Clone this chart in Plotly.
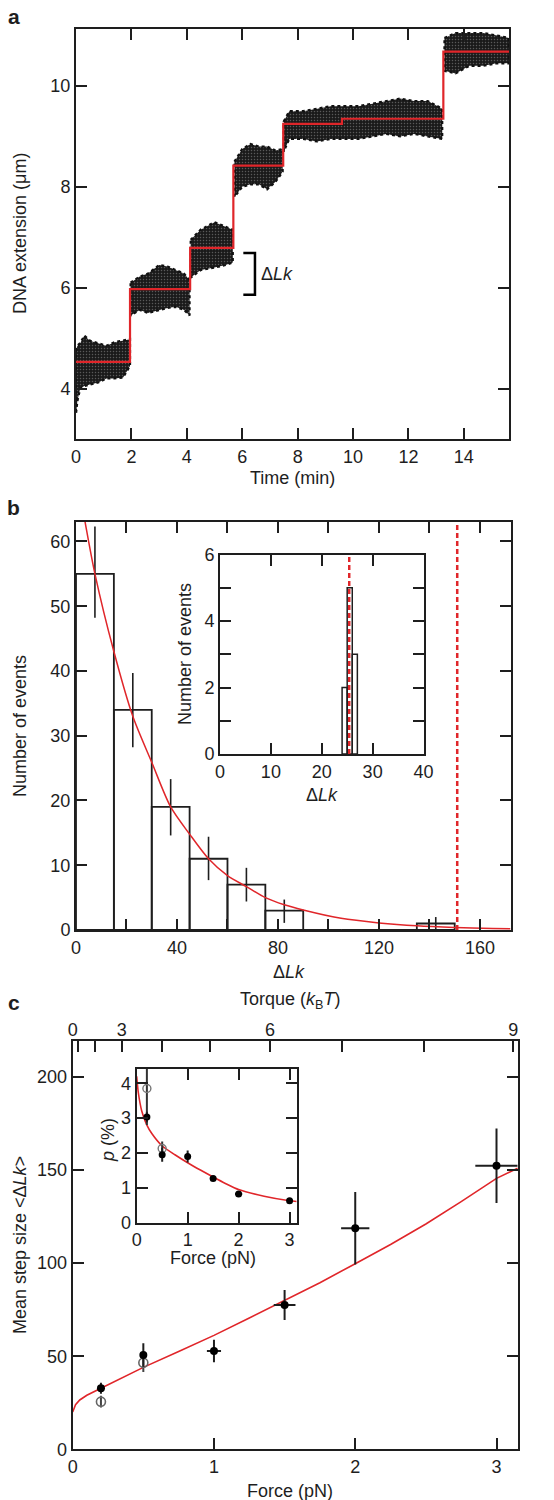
import plotly.graph_objects as go

W, H = 554, 1500
FONT = "Liberation Sans, Arial, Helvetica, sans-serif"
INK = "#1e1e1e"
RED = "#e0262a"

# ---------------- Panel a data ----------------
step_t = [0, 1.95, 4.12, 5.68, 7.48, 9.6, 13.26, 15.63]
step_lvl = [4.53, 5.97, 6.79, 8.42, 9.25, 9.35, 10.68, 10.68]

cloud_t = [
    [0, 0.05, 0.15, 0.3, 0.5, 0.8, 1.1, 1.4, 1.7, 1.95],
    [1.97, 2.3, 2.6, 3.0, 3.3, 3.6, 3.9, 4.1],
    [4.14, 4.5, 5.0, 5.4, 5.66],
    [5.72, 6.0, 6.3, 6.6, 6.9, 7.2, 7.46],
    [7.5, 7.7, 8.2, 8.7, 9.2, 9.7, 10.2, 10.7, 11.2, 11.7, 12.2, 12.7, 13.22],
    [13.3, 13.7, 14.2, 14.7, 15.2, 15.63],
]
cloud_hi = [
    [4.75, 4.85, 4.9, 5.05, 4.95, 4.9, 4.85, 4.92, 4.95, 4.98],
    [6.1, 6.22, 6.28, 6.45, 6.42, 6.35, 6.28, 6.15],
    [6.95, 7.15, 7.3, 7.2, 7.15],
    [8.5, 8.75, 8.85, 8.8, 8.8, 8.72, 8.75],
    [9.3, 9.5, 9.5, 9.55, 9.6, 9.6, 9.6, 9.65, 9.7, 9.75, 9.7, 9.7, 9.55],
    [10.95, 11.05, 11.05, 11.05, 11.0, 10.95],
]
cloud_lo = [
    [3.5, 3.75, 4.0, 4.05, 4.08, 4.12, 4.2, 4.2, 4.22, 4.45],
    [5.45, 5.56, 5.5, 5.56, 5.6, 5.62, 5.56, 5.45],
    [6.2, 6.35, 6.4, 6.45, 6.5],
    [7.8, 8.0, 8.05, 8.05, 7.95, 8.1, 8.3],
    [8.7, 8.95, 8.95, 8.9, 8.95, 8.95, 8.95, 9.0, 9.05, 9.0, 9.05, 9.0, 8.95],
    [10.3, 10.25, 10.4, 10.4, 10.45, 10.45],
]
a_xticks = [0, 2, 4, 6, 8, 10, 12, 14]
a_yticks = [4, 6, 8, 10]
bracket_t = [6.04, 6.46]
bracket_v = [5.86, 6.69]

# ---------------- Panel b data ----------------
hist_centers = [7.5, 22.5, 37.5, 52.5, 67.5, 82.5, 97.5, 112.5, 127.5, 142.5]
hist_counts = [55, 34, 19, 11, 7, 3, 0, 0, 0, 1]
hist_err_plus = [7.3, 5.7, 4.3, 3.4, 2.6, 1.7, 0, 0, 0, 1.0]
hist_err_minus = [6.8, 5.8, 4.4, 3.3, 2.6, 1.9, 0, 0, 0, 1.0]
hist_width = 15
fit_b_x = [0, 3.6, 7.5, 15, 22.5, 30, 37.5, 45, 52.5, 60, 67.5, 75, 82.5, 90, 105, 120, 135, 150, 165, 172]
fit_b_y = [71, 63, 55, 43, 33, 25.9, 19, 14.8, 11, 8.4, 6.7, 5.0, 3.9, 3.1, 1.8, 1.1, 0.65, 0.4, 0.25, 0.2]
b_dash_x = 151
b_xticks = [0, 40, 80, 120, 160]
b_xminor = [20, 60, 100, 140]
b_yticks = [0, 10, 20, 30, 40, 50, 60]

inset_b_centers = [24.5, 25.5, 26.5]
inset_b_counts = [2, 5, 3]
inset_b_dash_x = 25.4
ib_xticks = [0, 10, 20, 30, 40]
ib_yticks = [0, 2, 4, 6]
ib_yminor = [1, 3, 5]

# ---------------- Panel c data ----------------
force_f = [0.2, 0.5, 1.0, 1.5, 2.0, 3.0]
step_mean = [32.8, 50.6, 52.8, 77.5, 118.7, 152.3]
step_err_y = [3.0, 6.3, 6.0, 8.0, 19.5, 20.0]
step_err_x = [0.0, 0.02, 0.05, 0.077, 0.1, 0.15]
open_f = [0.2, 0.5]
open_mean = [25.6, 46.5]
open_err_y = [3.2, 5.0]
fit_c_x = [0, 0.02, 0.05, 0.1, 0.2, 0.3, 0.5, 0.75, 1.0, 1.25, 1.5, 1.75, 2.0, 2.25, 2.5, 2.75, 3.0, 3.15]
fit_c_y = [20, 24, 26.5, 29, 32.8, 36.5, 44, 52.5, 61.2, 70.5, 80, 89.5, 99.7, 110, 121, 133, 145.5, 151]
torque_labels = ["0", "3", "6", "9"]
torque_label_force = [0, 0.347, 1.397, 3.118]
torque_minor_force = [0.035, 0.158, 0.630, 0.972, 1.904, 2.488]
c_yticks = [0, 50, 100, 150, 200]
c_xticks = [0, 1, 2, 3]

p_f = [0.2, 0.5, 1.0, 1.5, 2.0, 3.0]
p_val = [3.03, 1.95, 1.9, 1.27, 0.82, 0.63]
p_err_y = [0.15, 0.2, 0.17, 0.07, 0.08, 0.03]
p_err_x = [0.0, 0.0, 0.0, 0.05, 0.07, 0.04]
p_open_f = [0.2, 0.5]
p_open_val = [3.85, 2.13]
p_open_err = [1.05, 0.2]
fit_p_x = [0, 0.03, 0.1, 0.2, 0.3, 0.5, 0.75, 1.0, 1.25, 1.5, 1.75, 2.0, 2.5, 3.0, 3.14]
fit_p_y = [4.2, 3.75, 3.2, 2.8, 2.55, 2.2, 1.95, 1.72, 1.51, 1.31, 1.12, 0.95, 0.76, 0.63, 0.61]
ic_xticks = [0, 1, 2, 3]
ic_yticks = [0, 1, 2, 3, 4]


def dom_x(l, r):
    return [l / W, r / W]


def dom_y(t, b):
    return [1 - b / H, 1 - t / H]


def ax(minor_vals=None, **kw):
    d = dict(showline=True, linewidth=2, linecolor=INK, mirror="ticks",
             ticks="inside", ticklen=11, tickwidth=2, tickcolor=INK,
             showgrid=False, zeroline=False, automargin=False,
             tickfont=dict(family=FONT, size=18, color=INK))
    if minor_vals is not None:
        d["minor"] = dict(tickmode="array", tickvals=minor_vals, ticks="inside",
                          ticklen=11, tickwidth=2, tickcolor=INK, showgrid=False)
    d.update(kw)
    return d


fig = go.Figure()

# ---- Panel a ----
for t, hi, lo in zip(cloud_t, cloud_hi, cloud_lo):
    fig.add_trace(go.Scatter(
        x=t + t[::-1] + [t[0]], y=hi + lo[::-1] + [hi[0]], xaxis="x", yaxis="y",
        mode="lines", line=dict(width=2.2, color="#111", dash="dot"),
        fill="toself", fillcolor="#1a1a1a",
        fillpattern=dict(shape=".", fgcolor="#5a5a5a", bgcolor="#1a1a1a", size=3,
                         solidity=0.2, fillmode="replace"),
        hoverinfo="skip"))
fig.add_trace(go.Scatter(x=step_t, y=step_lvl, xaxis="x", yaxis="y", mode="lines",
                         line=dict(color=RED, width=2.2, shape="hv")))

# ---- Panel b ----
fig.add_trace(go.Bar(x=hist_centers, y=hist_counts, width=hist_width, xaxis="x2", yaxis="y2",
                     marker=dict(color="rgba(0,0,0,0)", line=dict(color=INK, width=1.8)),
                     error_y=dict(type="data", array=hist_err_plus, arrayminus=hist_err_minus,
                                  color=INK, thickness=1.6, width=0)))
fig.add_trace(go.Scatter(x=fit_b_x, y=fit_b_y, xaxis="x2", yaxis="y2", mode="lines",
                         line=dict(color=RED, width=1.5, shape="spline", smoothing=0.8)))
fig.add_trace(go.Scatter(x=[b_dash_x, b_dash_x], y=[0, 63], xaxis="x2", yaxis="y2", mode="lines",
                         line=dict(color=RED, width=2.5, dash="5px,3px")))

fig.add_trace(go.Bar(x=inset_b_centers, y=inset_b_counts, width=1, xaxis="x3", yaxis="y3",
                     marker=dict(color="rgba(0,0,0,0)", line=dict(color=INK, width=1.5))))
fig.add_trace(go.Scatter(x=[inset_b_dash_x, inset_b_dash_x], y=[0, 6], xaxis="x3", yaxis="y3",
                         mode="lines", line=dict(color=RED, width=2.5, dash="5px,3px")))

# ---- Panel c ----
fig.add_trace(go.Scatter(x=fit_c_x, y=fit_c_y, xaxis="x4", yaxis="y4", mode="lines",
                         line=dict(color=RED, width=1.6)))
fig.add_trace(go.Scatter(x=open_f, y=open_mean, xaxis="x4", yaxis="y4", mode="markers",
                         marker=dict(symbol="circle-open", size=9, color="#666", line=dict(width=1.6)),
                         error_y=dict(type="data", array=open_err_y, color="#444", thickness=2, width=0)))
fig.add_trace(go.Scatter(x=force_f, y=step_mean, xaxis="x4", yaxis="y4", mode="markers",
                         marker=dict(symbol="circle", size=8, color="#000"),
                         error_y=dict(type="data", array=step_err_y, color=INK, thickness=2, width=0),
                         error_x=dict(type="data", array=step_err_x, color=INK, thickness=2, width=0)))
# invisible trace to activate the torque axis
fig.add_trace(go.Scatter(x=[0], y=[0], xaxis="x5", yaxis="y4", mode="markers",
                         marker=dict(opacity=0), hoverinfo="skip"))

fig.add_trace(go.Scatter(x=fit_p_x, y=fit_p_y, xaxis="x6", yaxis="y6", mode="lines",
                         line=dict(color=RED, width=1.6, shape="spline", smoothing=0.6)))
fig.add_trace(go.Scatter(x=p_open_f, y=p_open_val, xaxis="x6", yaxis="y6", mode="markers",
                         marker=dict(symbol="circle-open", size=8, color="#777", line=dict(width=1.4)),
                         error_y=dict(type="data", array=p_open_err, color="#333", thickness=2, width=0)))
fig.add_trace(go.Scatter(x=p_f, y=p_val, xaxis="x6", yaxis="y6", mode="markers",
                         marker=dict(symbol="circle", size=7, color="#000"),
                         error_y=dict(type="data", array=p_err_y, color=INK, thickness=2, width=0),
                         error_x=dict(type="data", array=p_err_x, color=INK, thickness=2, width=0)))

# ---- Layout ----
fig.update_layout(
    template="none",
    width=W, height=H, margin=dict(l=0, r=0, t=0, b=0, pad=0, autoexpand=False),
    paper_bgcolor="white", plot_bgcolor="white", showlegend=False,
    barmode="overlay", hovermode=False,
    xaxis=ax(domain=dom_x(76, 509), anchor="y", range=[0, 15.63], tickvals=a_xticks),
    yaxis=ax(domain=dom_y(29, 439), anchor="x", range=[3.0, 11.13], tickvals=a_yticks),
    xaxis2=ax(b_xminor, domain=dom_x(76, 511), anchor="y2", range=[0, 172.3], tickvals=b_xticks),
    yaxis2=ax(domain=dom_y(522, 930), anchor="x2", range=[0, 63], tickvals=b_yticks),
    xaxis3=ax(domain=dom_x(220, 423.5), anchor="y3", range=[0, 40], tickvals=ib_xticks),
    yaxis3=ax(ib_yminor, domain=dom_y(554.5, 754), anchor="x3", range=[0, 6], tickvals=ib_yticks),
    xaxis4=ax(domain=dom_x(72.7, 517.7), anchor="y4", range=[0, 3.15], tickvals=c_xticks, mirror=True),
    yaxis4=ax(domain=dom_y(1041, 1449.3), anchor="x4", range=[0, 219.3], tickvals=c_yticks),
    xaxis5=ax(torque_minor_force, overlaying="x4", anchor="y4", side="top", range=[0, 3.15],
              showline=False, mirror=False, tickvals=torque_label_force, ticktext=torque_labels),
    xaxis6=ax(domain=dom_x(136.7, 296.7), anchor="y6", range=[0, 3.14], tickvals=ic_xticks),
    yaxis6=ax(domain=dom_y(1069, 1222.7), anchor="x6", range=[0, 4.41], tickvals=ic_yticks),
    shapes=[dict(type="path", xref="x", yref="y",
                 path=f"M {bracket_t[0]} {bracket_v[1]} L {bracket_t[1]} {bracket_v[1]} "
                      f"L {bracket_t[1]} {bracket_v[0]} L {bracket_t[0]} {bracket_v[0]}",
                 line=dict(color="#000", width=2.5))],
)


def note(text, x, y, angle=0, size=18, bold=False, anchor="center"):
    fig.add_annotation(text=f"<b>{text}</b>" if bold else text, x=x / W, y=1 - y / H,
                       xref="paper", yref="paper", showarrow=False, textangle=angle,
                       xanchor=anchor, yanchor="middle",
                       font=dict(family=FONT, size=size, color=INK))


note("a", 14, 16, size=21, bold=True)
note("b", 14, 507, size=21, bold=True)
note("c", 14, 1002, size=21, bold=True)
note("Δ<i>Lk</i>", 259, 274, anchor="left")
note("DNA extension (μm)", 20, 234, angle=-90)
note("Time (min)", 292, 478)
note("Number of events", 20, 726, angle=-90)
note("Δ<i>Lk</i>", 289, 972)
note("Number of events", 185, 654, angle=-90)
note("Δ<i>Lk</i>", 322, 795)
note("Torque (<i>k</i><sub>B</sub><i>T</i>)", 290, 1000)
note("Mean step size &lt;Δ<i>Lk</i>&gt;", 20, 1245, angle=-90)
note("Force (pN)", 290, 1491)
note("<i>p</i> (%)", 108, 1140, angle=-90)
note("Force (pN)", 213, 1258)

fig.write_html("out.html", config={"displayModeBar": False, "staticPlot": True},
               post_script="document.body.style.margin='0';document.body.style.padding='0';")
